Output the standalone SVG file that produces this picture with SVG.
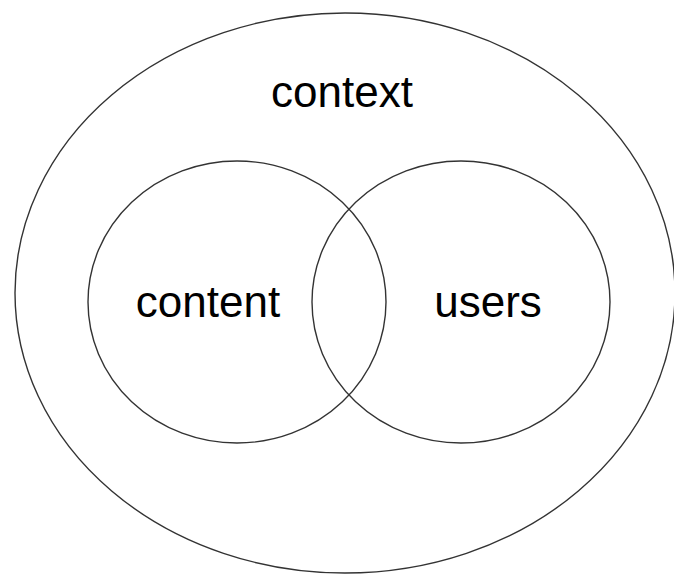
<svg xmlns="http://www.w3.org/2000/svg" width="674" height="575" viewBox="0 0 674 575">
<style>
.shape{fill:none;stroke:#333;stroke-width:1.4}
.lbl{font-family:"Liberation Sans",Arial,sans-serif;font-size:44px;fill:#000;text-anchor:middle}
</style>
<rect width="674" height="575" fill="#fff"/>
<g id="context">
<ellipse class="shape" cx="345" cy="293" rx="330" ry="280"/>
<text class="lbl" x="342" y="107">context</text>
</g>
<g id="content">
<ellipse class="shape" cx="237" cy="302" rx="149" ry="141"/>
<text class="lbl" x="208" y="317">content</text>
</g>
<g id="users">
<ellipse class="shape" cx="461" cy="302" rx="149" ry="141"/>
<text class="lbl" x="488" y="317">users</text>
</g>
<g id="connectors"></g>
</svg>
